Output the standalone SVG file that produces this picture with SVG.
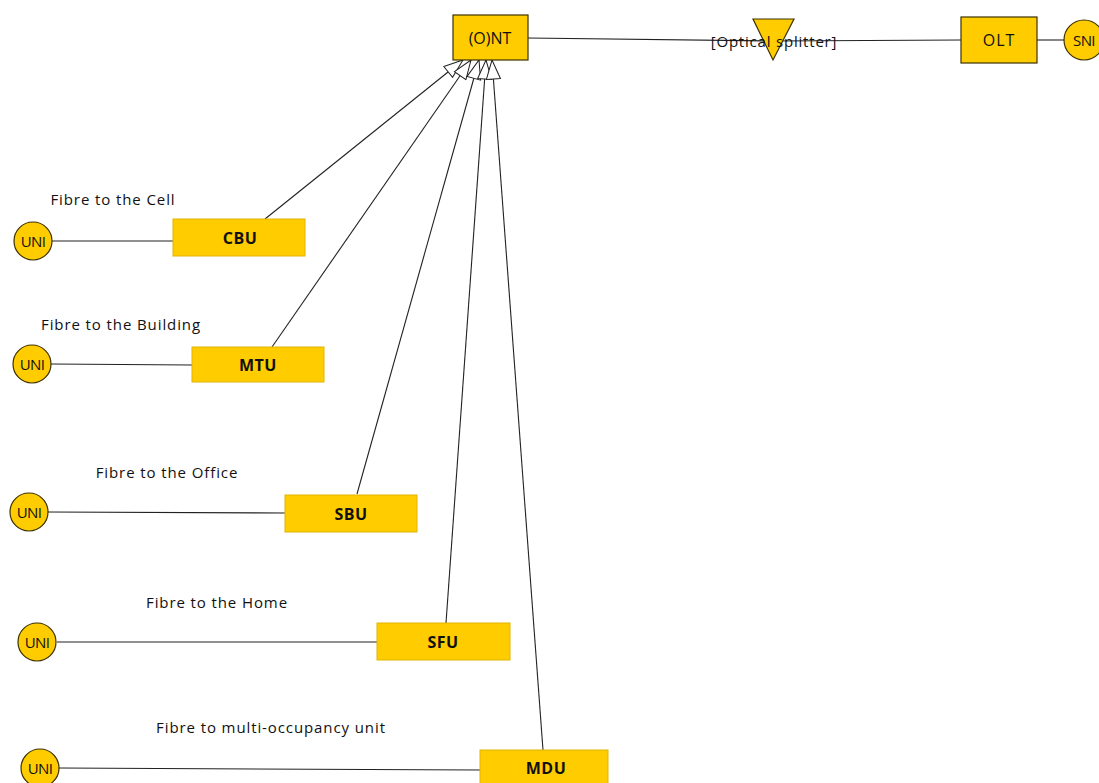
<svg xmlns="http://www.w3.org/2000/svg" width="1099" height="783" viewBox="0 0 1099 783">
<style>
.box{fill:#FFCC00;stroke:#3d3200;stroke-width:1.2}
.unit{fill:#FFCC00;stroke:#E2B400;stroke-width:1}
.circ{fill:#FFCC00;stroke:#3d3200;stroke-width:1.2}
.t{font-family:"Open Sans","DejaVu Sans",sans-serif;font-size:16px;fill:#111;text-anchor:middle;dominant-baseline:central}
.b{font-weight:bold;letter-spacing:0.5px}
.lbl{font-family:"Open Sans","DejaVu Sans",sans-serif;font-size:15px;letter-spacing:0.9px;fill:#111;text-anchor:middle}
.c{font-family:"Open Sans","DejaVu Sans",sans-serif;font-size:15px;fill:#111;text-anchor:middle;dominant-baseline:central;letter-spacing:-0.6px}
.ln{stroke:#222;stroke-width:1.1;fill:none}
.ar{stroke:#222;stroke-width:1.1;fill:none;marker-end:url(#hollow)}
</style>
<defs>
<marker id="hollow" markerWidth="22" markerHeight="16" refX="20" refY="8" orient="auto" markerUnits="userSpaceOnUse">
<path d="M1,1 L20,8 L1,15 Z" fill="#fff" stroke="#222" stroke-width="1"/>
</marker>
</defs>
<rect width="1099" height="783" fill="#fff"/>
<g id="connectors">
<line class="ln" x1="528" y1="38" x2="773" y2="41"/>
<line class="ln" x1="773" y1="41" x2="961" y2="40"/>
<line class="ln" x1="1037" y1="40" x2="1064" y2="40"/>
<line class="ln" x1="52" y1="241" x2="173" y2="241"/>
<line class="ln" x1="51" y1="364" x2="192" y2="365"/>
<line class="ln" x1="48" y1="512" x2="285" y2="513"/>
<line class="ln" x1="57" y1="642" x2="377" y2="642"/>
<line class="ln" x1="59" y1="768" x2="480" y2="770"/>
<line class="ar" x1="265" y1="219" x2="463" y2="60"/>
<line class="ar" x1="272" y1="347" x2="471" y2="60"/>
<line class="ar" x1="357" y1="494" x2="479" y2="60"/>
<line class="ar" x1="446" y1="623" x2="486" y2="60"/>
<line class="ar" x1="543" y1="750" x2="492" y2="60"/>
</g>
<g id="ont">
<rect class="box" x="453" y="15" width="75" height="45"/>
<text class="t" x="490" y="38">(O)NT</text>
</g>
<g id="splitter">
<path class="box" d="M753,19 L794,19 L773,60 Z"/>
<text class="t" x="774" y="41" style="font-size:15px;letter-spacing:0.8px">[Optical splitter]</text>
</g>
<g id="olt">
<rect class="box" x="961" y="17" width="76" height="46"/>
<text class="t" x="999" y="40" style="letter-spacing:1px">OLT</text>
</g>
<g id="sni">
<circle class="circ" cx="1084" cy="40" r="20"/>
<text class="c" x="1084" y="40">SNI</text>
</g>
<g id="cbu">
<rect class="unit" x="173" y="219" width="132" height="37"/>
<text class="t b" x="240" y="238">CBU</text>
</g>
<g id="uni1">
<circle class="circ" cx="33" cy="241" r="19"/>
<text class="c" x="33" y="241">UNI</text>
</g>
<text class="lbl" x="113" y="205">Fibre to the Cell</text>
<g id="mtu">
<rect class="unit" x="192" y="347" width="132" height="35"/>
<text class="t b" x="258" y="365">MTU</text>
</g>
<g id="uni2">
<circle class="circ" cx="32" cy="364" r="19"/>
<text class="c" x="32" y="364">UNI</text>
</g>
<text class="lbl" x="121" y="330">Fibre to the Building</text>
<g id="sbu">
<rect class="unit" x="285" y="495" width="132" height="37"/>
<text class="t b" x="351" y="514">SBU</text>
</g>
<g id="uni3">
<circle class="circ" cx="29" cy="512" r="19"/>
<text class="c" x="29" y="512">UNI</text>
</g>
<text class="lbl" x="167" y="478">Fibre to the Office</text>
<g id="sfu">
<rect class="unit" x="377" y="623" width="133" height="37"/>
<text class="t b" x="443" y="642">SFU</text>
</g>
<g id="uni4">
<circle class="circ" cx="37" cy="642" r="19"/>
<text class="c" x="37" y="642">UNI</text>
</g>
<text class="lbl" x="217" y="608">Fibre to the Home</text>
<g id="mdu">
<rect class="unit" x="480" y="750" width="128" height="40"/>
<text class="t b" x="546" y="768">MDU</text>
</g>
<g id="uni5">
<circle class="circ" cx="40" cy="768" r="19"/>
<text class="c" x="40" y="768">UNI</text>
</g>
<text class="lbl" x="271" y="733">Fibre to multi-occupancy unit</text>
</svg>
